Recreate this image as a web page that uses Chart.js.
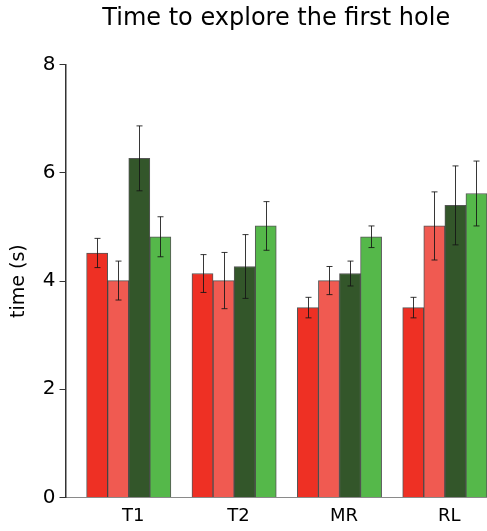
<!DOCTYPE html>
<html>
<head>
<meta charset="utf-8">
<script src="https://cdn.jsdelivr.net/npm/chart.js@4"></script>
<style>
    html, body { margin: 0; padding: 0; background: #fff; }
    #wrap { width: 487px; height: 531px; position: relative; }
</style>
</head>
<body>
<div id="wrap"><canvas id="chart"></canvas></div>
<script>
// 数据
const categories = ['T1', 'T2', 'MR', 'RL'];
const yTicks = [0, 2, 4, 6, 8];

const redValues = [4.52, 4.14, 3.51, 3.51];
const redErrors = [0.27, 0.35, 0.19, 0.19];
const lightRedValues = [4.01, 4.01, 4.01, 5.02];
const lightRedErrors = [0.36, 0.52, 0.26, 0.63];
const darkGreenValues = [6.27, 4.27, 4.14, 5.40];
const darkGreenErrors = [0.60, 0.59, 0.23, 0.73];
const greenValues = [4.82, 5.02, 4.82, 5.62];
const greenErrors = [0.37, 0.45, 0.20, 0.60];
// empty slot before each group
const spacerValues = [null, null, null, null];

const FONT = 'DejaVu Sans';

// 误差线插件
const errorBars = {
    id: 'errorBars',
    afterDatasetsDraw(chart) {
        const ctx = chart.ctx;
        const y = chart.scales.y;
        chart.data.datasets.forEach((ds, di) => {
            if (!ds.errors) return;
            const meta = chart.getDatasetMeta(di);
            meta.data.forEach((bar, i) => {
                const v = ds.data[i];
                const e = ds.errors[i];
                if (v == null || e == null) return;
                const x = Math.round(bar.x) + 0.5;
                const top = y.getPixelForValue(v + e);
                const bottom = y.getPixelForValue(v - e);
                ctx.save();
                ctx.strokeStyle = 'rgba(20,20,20,0.85)';
                ctx.lineWidth = 1;
                ctx.beginPath();
                ctx.moveTo(x, top);
                ctx.lineTo(x, bottom);
                ctx.moveTo(x - 3, top);
                ctx.lineTo(x + 3, top);
                ctx.moveTo(x - 3, bottom);
                ctx.lineTo(x + 3, bottom);
                ctx.stroke();
                ctx.restore();
            });
        });
    }
};

function barSet(label, data, errors, color) {
    return {
        label: label,
        data: data,
        errors: errors,
        backgroundColor: color,
        borderColor: 'rgba(30,30,30,0.75)',
        borderWidth: 1,
        borderSkipped: 'bottom'
    };
}

new Chart(document.getElementById('chart'), {
    type: 'bar',
    data: {
        labels: categories,
        datasets: [
            { label: '', data: spacerValues, backgroundColor: 'rgba(0,0,0,0)' },
            barSet('red', redValues, redErrors, '#EE3024'),
            barSet('light red', lightRedValues, lightRedErrors, '#F05A51'),
            barSet('dark green', darkGreenValues, darkGreenErrors, '#33562A'),
            barSet('green', greenValues, greenErrors, '#55B84A')
        ]
    },
    options: {
        responsive: true,
        maintainAspectRatio: false,
        animation: false,
        layout: { padding: { left: 8, right: -3, top: 4, bottom: -4 } },
        datasets: {
            bar: { categoryPercentage: 1, barPercentage: 1 }
        },
        plugins: {
            legend: { display: false },
            tooltip: { enabled: false },
            title: {
                display: true,
                text: 'Time to explore the first hole',
                fullSize: false,
                color: '#000',
                font: { family: FONT, size: 24, weight: 'normal' },
                padding: { top: 0, bottom: 32 }
            }
        },
        scales: {
            x: {
                grid: { display: false, drawTicks: false },
                border: { display: true, color: '#8a8a8a', width: 1 },
                ticks: {
                    color: '#000',
                    font: { family: FONT, size: 18 },
                    padding: 8,
                    labelOffset: 15
                }
            },
            y: {
                min: 0,
                max: 8,
                afterBuildTicks(scale) {
                    scale.ticks = yTicks.map(v => ({ value: v }));
                },
                grid: {
                    display: true,
                    drawOnChartArea: false,
                    drawTicks: true,
                    tickLength: 6,
                    tickColor: '#333'
                },
                border: { display: true, color: '#333', width: 1.5 },
                ticks: {
                    color: '#000',
                    font: { family: FONT, size: 20 },
                    padding: 4
                },
                title: {
                    display: true,
                    text: 'time (s)',
                    color: '#000',
                    font: { family: FONT, size: 19 },
                    padding: { top: 0, bottom: 8 }
                }
            }
        }
    },
    plugins: [errorBars]
});
</script>
</body>
</html>
